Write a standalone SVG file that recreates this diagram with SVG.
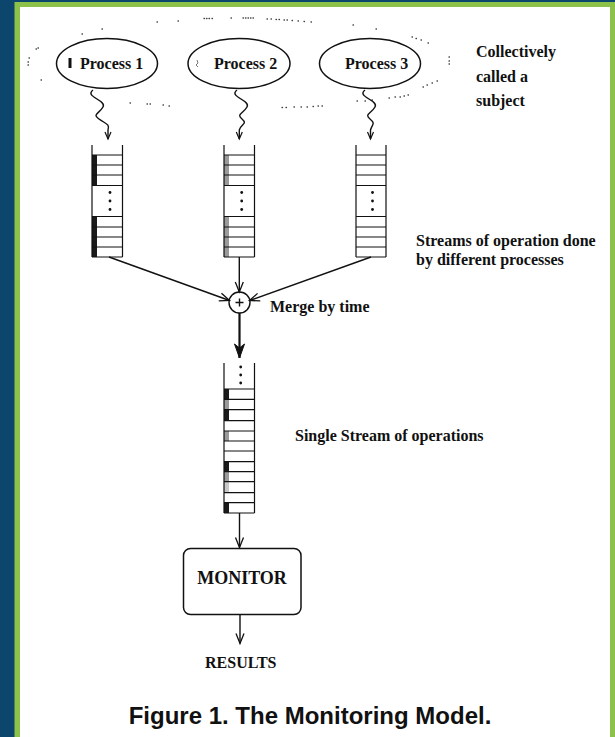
<svg xmlns="http://www.w3.org/2000/svg" width="615" height="737" viewBox="0 0 615 737">
<style>
.t{font-family:"Liberation Serif","Times New Roman",serif;font-weight:bold;font-size:16px;fill:#111}
.ttl{font-family:"Liberation Sans",Arial,sans-serif;font-weight:bold;font-size:24px;fill:#111}
.ln{stroke:#111;stroke-width:1.4;fill:none}
.cell{stroke:#111;stroke-width:1.2;fill:none}
.dk{fill:#1a1a1a}
.gr{fill:#9a9a9a}
.dotb{stroke:#444;stroke-width:1.3;stroke-linecap:round;fill:none}
</style>
<defs>
<marker id="ah" markerUnits="userSpaceOnUse" markerWidth="14" markerHeight="12" refX="11" refY="5" orient="auto">
<path d="M1,1 L11,5 L1,9" fill="none" stroke="#111" stroke-width="1.3"/>
</marker>
<marker id="ahs" markerUnits="userSpaceOnUse" markerWidth="10" markerHeight="10" refX="8" refY="4" orient="auto">
<path d="M1,1 L8,4 L1,7" fill="none" stroke="#111" stroke-width="1.2"/>
</marker>
<marker id="ahb" markerUnits="userSpaceOnUse" markerWidth="18" markerHeight="14" refX="15" refY="6" orient="auto">
<path d="M1,1 L15,6 L1,11 L5,6 z" fill="#111" stroke="#111" stroke-width="1"/>
</marker>
</defs>
<rect x="0" y="0" width="615" height="737" fill="#0c466c"/>
<rect x="14.5" y="2" width="600.5" height="735" fill="#8cc24a"/>
<rect x="20" y="7" width="590" height="730" fill="#ffffff"/>

<g id="subject-boundary">
<path class="dotb" d="M157,22h0.5M178,21h0.5M204,18.5h0.5M206.5,18.5h0.5M209,18.5h0.5M212,18.5h0.5M231,18h0.5M243,18h0.5M245.5,18h0.5M248,18h0.5M250.5,18h0.5M253,18h0.5M267,19h0.5M271,19h0.5M276,19.5h0.5M279,19.5h0.5M284,20h0.5M287,20h0.5M292,20.5h0.5M298,21h0.5M304,21.5h0.5M311,22h0.5M353,25h0.5M376,29h0.5M412,37h0.5M416,38.5h0.5M421,40h0.5M428,43h0.5M449,57h0.5M449,61h0.5M449,64h0.5M437,81h0.5M432,83h0.5M427,85h0.5M423,87h0.5M408,95h0.5M404,96h0.5M400,97h0.5M395,97h0.5M389,98h0.5M372,100h0.5M365,101h0.5M357,101h0.5M322,106h0.5M318,106h0.5M313,106.5h0.5M307,107h0.5M301,107h0.5M294,107h0.5M286,107.5h0.5M282,107.5h0.5M169,106h0.5M163,105h0.5M150,104h0.5M147,104h0.5M130,103h0.5M102,29h0.5M82,34h0.5M38,48h0.5M36,49h0.5M29,58h0.5M28,62h0.5M28,65h0.5M41,80h0.5"/>
</g>

<g id="process1">
<ellipse cx="107" cy="63.5" rx="50.5" ry="25" fill="#fff" stroke="#111" stroke-width="1.5"/>
<rect x="68.5" y="58" width="3" height="10" fill="#111"/>
<text class="t" x="80" y="69">Process 1</text>
</g>
<g id="process2">
<ellipse cx="239" cy="63.5" rx="51" ry="25" fill="#fff" stroke="#111" stroke-width="1.5"/>
<path d="M197,60 l1,3 l-2,2 l2,2" stroke="#777" stroke-width="1" fill="none"/>
<text class="t" x="214" y="69">Process 2</text>
</g>
<g id="process3">
<ellipse cx="370" cy="63.5" rx="50.5" ry="25" fill="#fff" stroke="#111" stroke-width="1.5"/>
<text class="t" x="345" y="69">Process 3</text>
</g>

<g id="subject-label">
<text class="t" x="476" y="57">Collectively</text>
<text class="t" x="476" y="82">called a</text>
<text class="t" x="476" y="106">subject</text>
</g>

<g id="queue1">
<rect class="dk" x="92" y="155" width="5" height="30"/>
<rect class="dk" x="92" y="216" width="5" height="41"/>
<path class="cell" d="M92,145V257M122.5,145V257M92,155H122.5M92,165H122.5M92,175H122.5M92,185.5H122.5M92,216.5H122.5M92,227H122.5M92,237H122.5M92,247H122.5M92,257H122.5"/>
<circle cx="110" cy="192.5" r="1.4" fill="#111"/><circle cx="110" cy="201" r="1.4" fill="#111"/><circle cx="110" cy="209.5" r="1.4" fill="#111"/>
</g>
<g id="queue2">
<rect class="gr" x="224" y="155" width="5" height="30"/>
<rect class="gr" x="224" y="216" width="5" height="41"/>
<path class="cell" d="M224,145V257M254.5,145V257M224,155H254.5M224,165H254.5M224,175H254.5M224,185.5H254.5M224,216.5H254.5M224,227H254.5M224,237H254.5M224,247H254.5M224,257H254.5"/>
<circle cx="241.7" cy="192.5" r="1.4" fill="#111"/><circle cx="241.7" cy="201" r="1.4" fill="#111"/><circle cx="241.7" cy="209.5" r="1.4" fill="#111"/>
</g>
<g id="queue3">
<path class="cell" d="M356,145V257M386,145V257M356,155H386M356,165H386M356,175H386M356,185.5H386M356,216.5H386M356,227H386M356,237H386M356,247H386M356,257H386"/>
<circle cx="372.5" cy="192.5" r="1.4" fill="#111"/><circle cx="372.5" cy="201" r="1.4" fill="#111"/><circle cx="372.5" cy="209.5" r="1.4" fill="#111"/>
</g>
<g id="streams-label">
<text class="t" x="416" y="246">Streams of operation done</text>
<text class="t" x="416" y="265">by different processes</text>
</g>

<g id="merge">
<circle cx="239.5" cy="302.5" r="10.5" fill="#fff" stroke="#111" stroke-width="1.4"/>
<path d="M235.5,302.5h8M239.5,298.5v8" stroke="#111" stroke-width="1.4"/>
<text class="t" x="270" y="312">Merge by time</text>
</g>

<g id="single-queue">
<rect class="dk" x="224" y="389" width="5" height="10.3"/>
<rect class="gr" x="224" y="399.3" width="5" height="10.4"/>
<rect class="dk" x="224" y="409.7" width="5" height="11"/>
<rect class="gr" x="224" y="431" width="5" height="10"/>
<rect class="dk" x="224" y="461.7" width="5" height="10"/>
<rect class="gr" x="224" y="471.7" width="5" height="10"/>
<rect fill="#c8c8c8" x="224" y="481.7" width="5" height="11"/>
<rect class="dk" x="224" y="502.7" width="5" height="10.3"/>
<path class="cell" d="M224,363V513M254.5,363V513M224,389H254.5M224,399.3H254.5M224,409.7H254.5M224,420.7H254.5M224,431H254.5M224,441H254.5M224,451H254.5M224,461.7H254.5M224,471.7H254.5M224,481.7H254.5M224,492.7H254.5M224,502.7H254.5M224,513H254.5"/>
<circle cx="240.7" cy="367" r="1.4" fill="#111"/><circle cx="240.7" cy="375" r="1.4" fill="#111"/><circle cx="240.7" cy="383" r="1.4" fill="#111"/>
<text class="t" x="295" y="441">Single Stream of operations</text>
</g>

<g id="monitor">
<rect x="183.5" y="548.5" width="117.5" height="66" rx="7" fill="#fff" stroke="#111" stroke-width="1.5"/>
<text class="t" x="242" y="584" text-anchor="middle" style="font-size:18px">MONITOR</text>
</g>
<g id="results">
<text class="t" x="205" y="668">RESULTS</text>
</g>

<g id="connectors">
<path class="ln" d="M93,90 C84,97 107,100 103,107 S92,114 99,119 S110,124 108,130 L108,139" marker-end="url(#ahs)"/>
<path class="ln" d="M237,90 C228,97 251,100 247,107 S236,114 242,119 S241,124 239.3,130 L239.3,139" marker-end="url(#ahs)"/>
<path class="ln" d="M365,90 C356,97 379,100 375,107 S364,114 370,119 S372,124 370.5,130 L370.5,139" marker-end="url(#ahs)"/>
<path class="ln" d="M109,257 L229.5,300.5" marker-end="url(#ah)"/>
<path class="ln" d="M239.3,257 L239.3,292" marker-end="url(#ah)"/>
<path class="ln" d="M371,257 L249.5,300.5" marker-end="url(#ah)"/>
<path d="M239.5,313 L239.5,358" stroke="#111" stroke-width="2.2" fill="none" marker-end="url(#ahb)"/>
<path class="ln" d="M239.5,513 L239.5,547.5" marker-end="url(#ah)"/>
<path class="ln" d="M240,614.5 L240,643.5" marker-end="url(#ah)"/>
</g>

<text class="ttl" x="310" y="724" text-anchor="middle">Figure 1. The Monitoring Model.</text>
</svg>
